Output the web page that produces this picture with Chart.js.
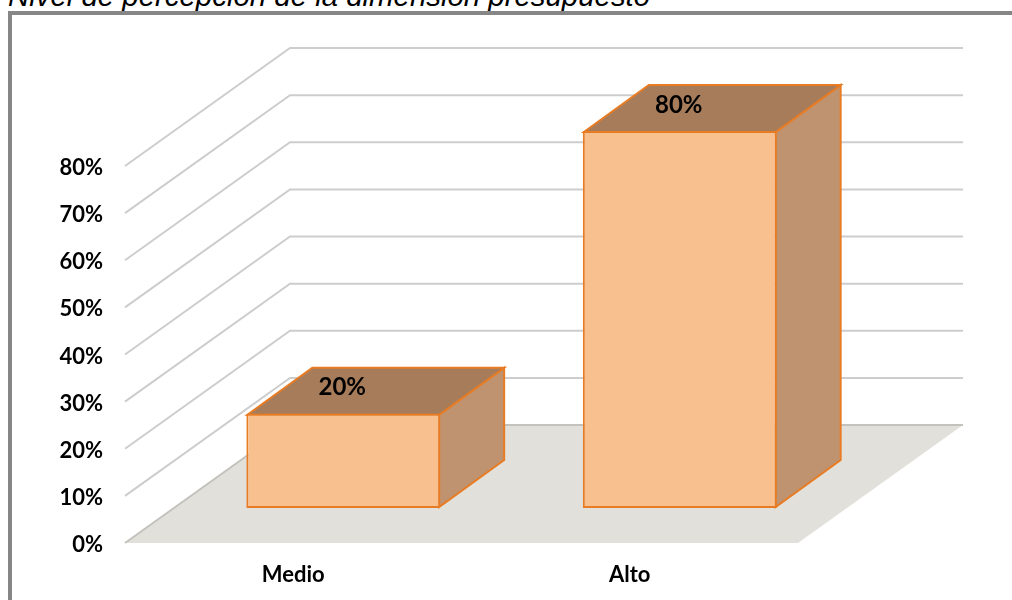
<!DOCTYPE html>
<html><head><meta charset="utf-8">
<script src="https://cdn.jsdelivr.net/npm/chart.js@4"></script>
<style>
html,body{margin:0;padding:0;background:#fff;overflow:hidden}
#wrap{position:relative;width:1012px;height:600px;overflow:hidden}
#title{position:absolute;left:8px;top:-16px;font:italic 29.4px "Liberation Sans",Arial,sans-serif;color:#000;white-space:nowrap;line-height:24px}
#frame{position:absolute;left:8px;top:11px;right:-10px;bottom:-10px;border-top:4px solid #868686;border-left:4px solid #868686}
canvas{position:absolute;left:0;top:0}
</style></head><body>
<div id="wrap">
<div id="title">Nivel de percepción de la dimensión presupuesto</div>
<div id="frame"></div>
<canvas id="c" width="1012" height="600"></canvas>
</div>
<script>
const categories = ["Medio", "Alto"];
const percentages = [20, 80];
const axisMax = 80;
const axisStep = 10;

const wallDX = 165, wallDY = -118, wallRight = 963;
const barLiftX = 50, barLiftY = -35, barDX = 65, barDY = -47;
const font = '"Lato","Noto Sans",sans-serif';
const edge = '#E87C24';

const scene3d = {
  id: 'scene3d',
  beforeDraw(chart) {
    // nudge the value-axis labels down to sit where the reference has them
    if (chart.$labelsNudged) return;
    chart.$labelsNudged = true;
    chart.scales.y.getLabelItems(chart.chartArea).forEach(item => { item.textOffset += 2; });
  },
  beforeDatasetsDraw(chart) {
    const {ctx, scales: {x, y}, chartArea: a} = chart;
    const y0 = y.getPixelForValue(0);
    ctx.save();
    // floor
    ctx.fillStyle = '#E2E0DA';
    ctx.beginPath();
    ctx.moveTo(a.left, y0);
    ctx.lineTo(a.left + wallDX, y0 + wallDY);
    ctx.lineTo(wallRight, y0 + wallDY);
    ctx.lineTo(a.right, y0);
    ctx.closePath();
    ctx.fill();
    // wall gridlines
    y.ticks.forEach(t => {
      const py = y.getPixelForValue(t.value);
      ctx.strokeStyle = t.value === 0 ? '#C4C2BD' : '#CDCDCD';
      ctx.lineWidth = 2;
      ctx.beginPath();
      ctx.moveTo(a.left, py);
      ctx.lineTo(a.left + wallDX, py + wallDY);
      ctx.lineTo(wallRight, py + wallDY);
      ctx.stroke();
    });
    // bar side and top faces
    const meta = chart.getDatasetMeta(0);
    meta.data.forEach(b => {
      const l = b.x - b.width / 2 + barLiftX, r = b.x + b.width / 2 + barLiftX;
      const t = b.y + barLiftY + 1, bt = b.base + barLiftY - 1;
      ctx.strokeStyle = edge;
      ctx.lineWidth = 2;
      ctx.lineJoin = 'miter';
      ctx.fillStyle = '#BF9370';
      ctx.beginPath();
      ctx.moveTo(r - 1, t); ctx.lineTo(r - 1 + barDX, t + barDY);
      ctx.lineTo(r - 1 + barDX, bt + barDY); ctx.lineTo(r - 1, bt);
      ctx.closePath(); ctx.fill(); ctx.stroke();
      ctx.fillStyle = '#A67C5B';
      ctx.beginPath();
      ctx.moveTo(l + 1, t); ctx.lineTo(l + 1 + barDX, t + barDY);
      ctx.lineTo(r - 1 + barDX, t + barDY); ctx.lineTo(r - 1, t);
      ctx.closePath(); ctx.fill(); ctx.stroke();
    });
    ctx.restore();
    ctx.save();
    ctx.translate(barLiftX, barLiftY);
  },
  afterDatasetsDraw(chart) {
    const {ctx} = chart;
    ctx.restore();
    const meta = chart.getDatasetMeta(0);
    ctx.save();
    ctx.fillStyle = '#000';
    ctx.font = 'bold 24px ' + font;
    ctx.textAlign = 'center';
    ctx.textBaseline = 'middle';
    meta.data.forEach((b, i) => {
      ctx.fillText(percentages[i] + '%', b.x + barLiftX - 1, b.y + barLiftY - 26);
    });
    ctx.restore();
  }
};

new Chart(document.getElementById('c'), {
  type: 'bar',
  data: {
    labels: categories,
    datasets: [{
      data: percentages,
      backgroundColor: '#F8BF8F',
      borderColor: edge,
      borderWidth: 2,
      borderSkipped: false,
      barPercentage: 0.576,
      categoryPercentage: 1
    }]
  },
  options: {
    responsive: false,
    animation: false,
    layout: {padding: {top: 166, left: 0, right: 214, bottom: 0}},
    plugins: {legend: {display: false}, tooltip: {enabled: false}, title: {display: false}},
    scales: {
      x: {
        grid: {display: false},
        border: {display: false},
        ticks: {color: '#000', font: {family: font, weight: 'bold', size: 22}, padding: 11, maxRotation: 0},
        afterFit(s) { s.height = 57; }
      },
      y: {
        min: 0, max: axisMax,
        grid: {display: false},
        border: {display: false},
        ticks: {
          stepSize: axisStep,
          color: '#000',
          font: {family: font, weight: 'bold', size: 22},
          padding: 14,
          callback: v => v + '%'
        },
        afterFit(s) { s.width = 125; }
      }
    }
  },
  plugins: [scene3d]
});
</script>
</body></html>
